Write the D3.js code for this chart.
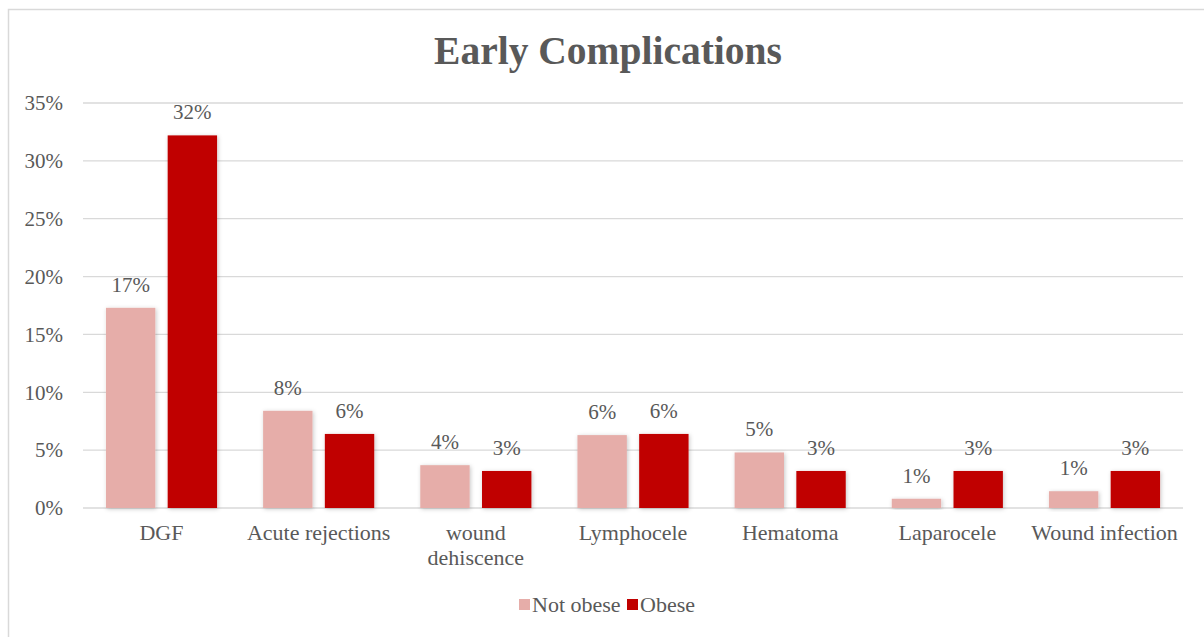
<!DOCTYPE html>
<html>
<head>
<meta charset="utf-8">
<script src="https://cdn.jsdelivr.net/npm/d3@7"></script>
<style>
  html, body { margin: 0; padding: 0; background: #fff; }
  svg { display: block; }
  svg text { font-family: "Liberation Serif", "Times New Roman", Times, serif; fill: #595959; }
</style>
</head>
<body>
<svg id="chart" width="1204" height="637"></svg>
<script>
const categories = ["DGF", "Acute rejections", "wound dehiscence", "Lymphocele", "Hematoma", "Laparocele", "Wound infection"];
const seriesNames = ["Not obese", "Obese"];
const notObese = [0.173, 0.084, 0.037, 0.063, 0.048, 0.008, 0.0145];
const obese = [0.322, 0.064, 0.032, 0.064, 0.032, 0.032, 0.032];
const yTicks = [0, 0.05, 0.10, 0.15, 0.20, 0.25, 0.30, 0.35];
const colors = ["#E6ADA9", "#C00000"];

const FONT = "'Liberation Serif', 'Times New Roman', Times, serif";
const svg = d3.select("#chart");
const W = 1204, H = 637;
const m = { left: 83, right: 21, top: 103, bottom: 129 };
const plotW = W - m.left - m.right, plotH = H - m.top - m.bottom;

// border
svg.append("rect").attr("x", 8.5).attr("y", 9.5).attr("width", W).attr("height", H)
  .attr("fill", "#fff").attr("stroke", "#d9d9d9").attr("stroke-width", 1.5);

const defs = svg.append("defs");
const f = defs.append("filter").attr("id", "shadow").attr("x", "-20%").attr("y", "-20%").attr("width", "140%").attr("height", "140%");
f.append("feDropShadow").attr("dx", 1).attr("dy", 1).attr("stdDeviation", 2).attr("flood-color", "#000").attr("flood-opacity", 0.22);

svg.append("text").attr("x", 608).attr("y", 64).attr("text-anchor", "middle")
  .attr("font-family", FONT).style("font-size", "39.5px").style("font-weight", "bold").text("Early Complications");

const g = svg.append("g").attr("transform", `translate(${m.left},${m.top})`);
const y = d3.scaleLinear().domain([0, 0.35]).range([plotH, 0]);
const x0 = d3.scaleBand().domain(categories).range([0, plotW]).paddingInner(0.293).paddingOuter(0.146);
const x1 = d3.scaleBand().domain(seriesNames).range([0, x0.bandwidth()]).paddingInner(0.2);

// gridlines
g.append("g").selectAll("line").data(yTicks).join("line")
  .attr("x1", 0).attr("x2", plotW).attr("y1", d => y(d)).attr("y2", d => y(d))
  .attr("stroke", "#d9d9d9").attr("stroke-width", 1.3);

// y axis labels
const yAxis = d3.axisLeft(y).tickValues(yTicks).tickFormat(d3.format(".0%")).tickSize(0).tickPadding(20);
const ya = g.append("g").call(yAxis);
ya.select(".domain").remove();
ya.attr("font-family", null).attr("font-size", null);
ya.selectAll("text").style("font-size", "21px").style("font-family", FONT).attr("fill", "#595959");

const data = categories.map((c, i) => ({ c, vals: [notObese[i], obese[i]] }));
const groups = g.selectAll(".grp").data(data).join("g")
  .attr("transform", d => `translate(${x0(d.c)},0)`);
groups.selectAll("rect").data(d => d.vals.map((v, j) => ({ v, s: seriesNames[j], j }))).join("rect")
  .attr("x", d => x1(d.s)).attr("width", x1.bandwidth())
  .attr("y", d => y(d.v)).attr("height", d => plotH - y(d.v))
  .attr("fill", d => colors[d.j]).attr("filter", "url(#shadow)");
groups.selectAll(".lbl").data(d => d.vals.map((v, j) => ({ v, s: seriesNames[j] }))).join("text")
  .attr("class", "lbl").attr("text-anchor", "middle").attr("font-family", FONT)
  .attr("x", d => x1(d.s) + x1.bandwidth() / 2).attr("y", d => y(d.v) - 16)
  .style("font-size", "21px").text(d => d3.format(".0%")(d.v));

// x axis labels
const xl = g.selectAll(".xl").data(categories).join("text").attr("class", "xl")
  .attr("text-anchor", "middle").attr("font-family", FONT).attr("x", d => x0(d) + x0.bandwidth() / 2)
  .attr("y", plotH + 32).style("font-size", "22px");
xl.each(function(d) {
  const t = d3.select(this);
  const parts = d === "wound dehiscence" ? ["wound", "dehiscence"] : [d];
  parts.forEach((p, i) => t.append("tspan").attr("x", x0(d) + x0.bandwidth() / 2).attr("dy", i === 0 ? 0 : 25).text(p));
});

// legend
const legend = svg.append("g").attr("transform", "translate(519,599)");
const items = [{ n: "Not obese", c: colors[0], x: 0 }, { n: "Obese", c: colors[1], x: 108 }];
const li = legend.selectAll("g").data(items).join("g").attr("transform", d => `translate(${d.x},0)`);
li.append("rect").attr("width", 11).attr("height", 11).attr("fill", d => d.c);
li.append("text").attr("x", 13).attr("y", 13).attr("font-family", FONT).style("font-size", "22px").text(d => d.n);
</script>
</body>
</html>
